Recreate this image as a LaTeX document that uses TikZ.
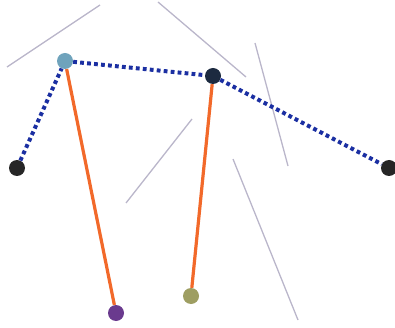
\documentclass[tikz,border=0pt]{standalone}
\usepackage{tikz}
\usetikzlibrary{shapes}
\tikzset{
  joint_node/.style = {circle, inner sep=0pt, minimum size=16pt},% articulation
  head_node/.style = {joint_node, fill=jointteal},% articulation, tete
  dark_node/.style = {joint_node, fill=jointnavy},% articulation, cou
  end_node/.style = {joint_node, fill=black!85},% articulation, main
  limb_edge/.style = {draw=limborange, line width=3.2pt},% segment orange
  body_edge/.style = {draw=bodyblue, line width=4pt,
    dash pattern=on 3.8pt off 3.2pt},% segment pointille
  stroke_line/.style = {draw=strokegray, line width=1.3pt}% trait gris
}
\definecolor{jointteal}{HTML}{6FA3BC}
\definecolor{jointnavy}{HTML}{1C2A40}
\definecolor{jointpurple}{HTML}{6A3A8E}
\definecolor{jointolive}{HTML}{9E9E62}
\definecolor{limborange}{HTML}{F2692A}
\definecolor{bodyblue}{HTML}{1B2FA2}
\definecolor{strokegray}{HTML}{BAB6CA}
\begin{document}
\begin{tikzpicture}[x=1pt, y=-1pt]
        \useasboundingbox (0,0) rectangle (395,328);
        % traits gris
        \coordinate (g1a) at (7,67);    \coordinate (g1b) at (100,5);
        \coordinate (g2a) at (158,2);   \coordinate (g2b) at (246,77);
        \coordinate (g3a) at (255,43);  \coordinate (g3b) at (288,166);
        \coordinate (g4a) at (126,203); \coordinate (g4b) at (192,119);
        \coordinate (g5a) at (233,159); \coordinate (g5b) at (298,320);
        \foreach \s in {g1,g2,g3,g4,g5}
          \draw [stroke_line] (\s a) -- (\s b);
        % articulations
        \node [head_node] (head) at (65,61) {};
        \node [dark_node] (neck) at (213,76) {};
        \node [end_node] (lhand) at (17,168) {};
        \node [end_node] (rhand) at (389,168) {};
        \node [joint_node, fill=jointpurple] (lfoot) at (116,313) {};
        \node [joint_node, fill=jointolive] (rfoot) at (191,296) {};
        % segments
        \draw [limb_edge] (head) -- (lfoot);
        \draw [limb_edge] (neck) -- (rfoot);
        \draw [body_edge] (lhand) -- (head);
        \draw [body_edge] (head) -- (neck);
        \draw [body_edge] (neck) -- (rhand);
\end{tikzpicture}
\end{document}
